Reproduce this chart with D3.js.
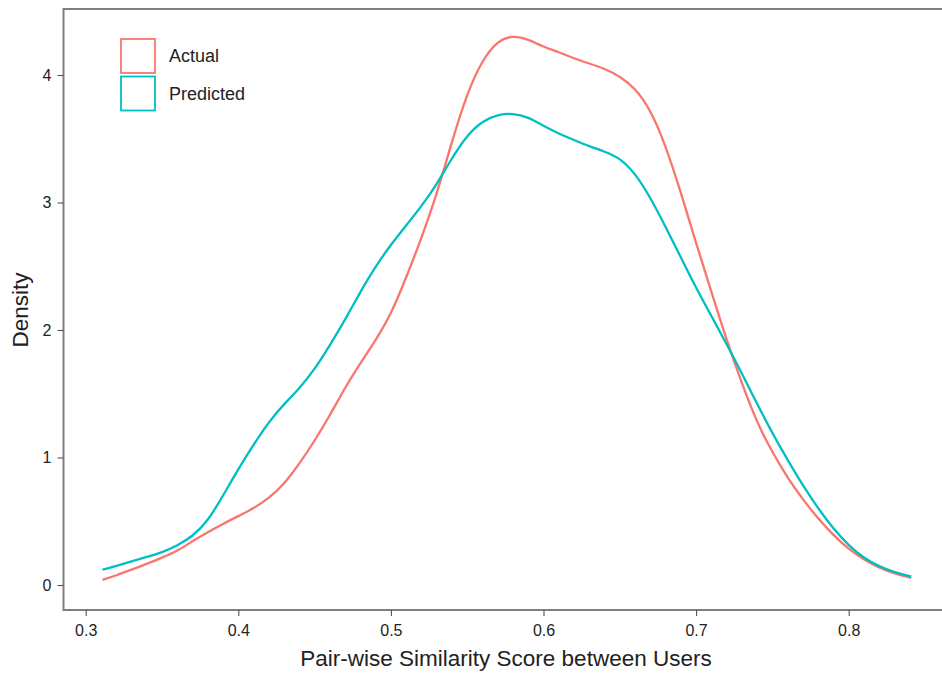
<!DOCTYPE html>
<head>
  <meta charset="utf-8" />
  <script src="https://cdn.jsdelivr.net/npm/d3@7"></script>
  <style>
    body { margin: 0; background: #fff; }
    svg { display: block; font-family: "Liberation Sans", Arial, sans-serif; }
  </style>
</head>
<body>
  <svg width="942" height="673"></svg>
  <script>
    // density curves
    const xs = [0.311, 0.32, 0.33, 0.34, 0.35, 0.36, 0.37, 0.38, 0.39, 0.40,
      0.41, 0.42, 0.43, 0.44, 0.45, 0.46, 0.47, 0.48, 0.49, 0.50,
      0.51, 0.52, 0.53, 0.54, 0.55, 0.56, 0.57, 0.58, 0.59, 0.60,
      0.61, 0.62, 0.63, 0.64, 0.65, 0.66, 0.67, 0.68, 0.69, 0.70,
      0.71, 0.72, 0.73, 0.74, 0.75, 0.76, 0.77, 0.78, 0.79, 0.80,
      0.81, 0.82, 0.83, 0.841];
    const actual = [0.04, 0.075, 0.12, 0.165, 0.215, 0.265, 0.345, 0.415, 0.48, 0.54,
      0.60, 0.68, 0.79, 0.95, 1.13, 1.33, 1.55, 1.74, 1.92, 2.12,
      2.41, 2.72, 3.06, 3.48, 3.86, 4.12, 4.27, 4.31, 4.28, 4.22,
      4.18, 4.13, 4.09, 4.05, 3.99, 3.90, 3.73, 3.45, 3.08, 2.68,
      2.30, 1.92, 1.58, 1.27, 1.04, 0.84, 0.67, 0.52, 0.39, 0.28,
      0.20, 0.135, 0.09, 0.055];
    const predicted = [0.12, 0.15, 0.185, 0.22, 0.255, 0.31, 0.38, 0.50, 0.70, 0.91,
      1.10, 1.28, 1.42, 1.54, 1.69, 1.88, 2.08, 2.30, 2.50, 2.67,
      2.82, 2.97, 3.14, 3.35, 3.53, 3.64, 3.69, 3.70, 3.67, 3.60,
      3.54, 3.49, 3.44, 3.40, 3.35, 3.23, 3.04, 2.81, 2.57, 2.33,
      2.11, 1.89, 1.66, 1.42, 1.19, 0.98, 0.78, 0.60, 0.44, 0.31,
      0.21, 0.145, 0.10, 0.065];
    const groups = ["Actual", "Predicted"];
    const colors = ["#F8766D", "#00BFC4"];
    const xTicks = [0.3, 0.4, 0.5, 0.6, 0.7, 0.8];
    const yTicks = [0, 1, 2, 3, 4];

    const svg = d3.select("svg");
    const panel = { left: 63.5, top: 9, right: 945, bottom: 610 };

    const xScale = d3.scaleLinear().domain([0.3, 0.8]).range([85.7, 848.7]);
    const yScale = d3.scaleLinear().domain([0, 4]).range([585, 75]);

    // panel border (right edge runs off the picture)
    svg.append("rect")
      .attr("x", panel.left).attr("y", panel.top)
      .attr("width", panel.right - panel.left).attr("height", panel.bottom - panel.top)
      .attr("fill", "none").attr("stroke", "#7f7f7f").attr("stroke-width", 2);

    const xAxis = d3.axisBottom(xScale).tickValues(xTicks).tickSize(6).tickPadding(9)
      .tickFormat(d3.format(".1f"));
    const yAxis = d3.axisLeft(yScale).tickValues(yTicks).tickSize(6).tickPadding(6)
      .tickFormat(d3.format("d"));

    const gx = svg.append("g").attr("transform", `translate(0,${panel.bottom})`).call(xAxis);
    const gy = svg.append("g").attr("transform", `translate(${panel.left},0)`).call(yAxis);
    [gx, gy].forEach(g => {
      g.select(".domain").remove();
      g.selectAll(".tick line").attr("stroke", "#555").attr("stroke-width", 1.1);
      g.selectAll(".tick text").attr("fill", "#222").style("font-size", "16px");
    });

    const line = d3.line()
      .x((d, i) => xScale(xs[i]))
      .y(d => yScale(d))
      .curve(d3.curveBasis);

    [actual, predicted].forEach((series, k) => {
      svg.append("path")
        .datum(series)
        .attr("d", line)
        .attr("fill", "none")
        .attr("stroke", colors[k])
        .attr("stroke-width", 2.3);
    });

    // legend
    const legend = svg.append("g").attr("transform", "translate(121,39)");
    groups.forEach((g, i) => {
      legend.append("rect")
        .attr("x", 0).attr("y", i * 37.5)
        .attr("width", 34).attr("height", 34)
        .attr("fill", "#fff").attr("stroke", colors[i]).attr("stroke-width", 1.8);
      legend.append("text")
        .attr("x", 48).attr("y", i * 37.5 + 17)
        .attr("dy", "0.35em")
        .attr("fill", "#222")
        .style("font-size", "18px")
        .text(g);
    });

    // axis titles
    svg.append("text")
      .attr("x", 506).attr("y", 666)
      .attr("text-anchor", "middle").attr("fill", "#222")
      .style("font-size", "22.5px")
      .text("Pair-wise Similarity Score between Users");
    svg.append("text")
      .attr("transform", "translate(28,310) rotate(-90)")
      .attr("text-anchor", "middle").attr("fill", "#222")
      .style("font-size", "22.5px")
      .text("Density");
  </script>
</body>
